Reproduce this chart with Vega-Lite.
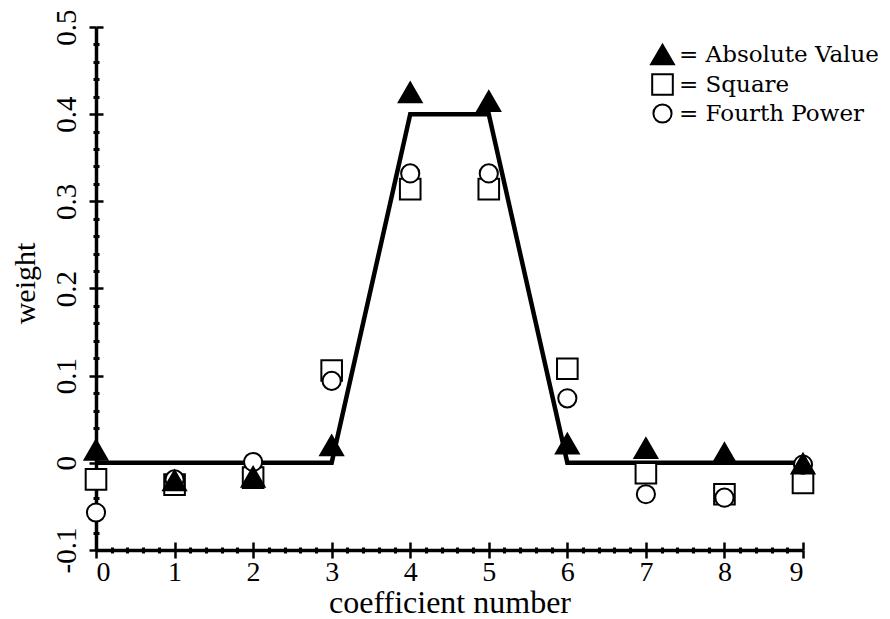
{
  "$schema": "https://vega.github.io/schema/vega-lite/v6.json",
  "width": 707,
  "height": 523,
  "autosize": {"type": "none"},
  "padding": {"left": 96, "top": 27, "right": 87, "bottom": 69},
  "background": "white",
  "config": {
    "view": {"stroke": null},
    "font": "Liberation Serif",
    "axis": {
      "labelFont": "Liberation Serif",
      "titleFont": "Liberation Serif",
      "labelColor": "black",
      "titleColor": "black",
      "domainColor": "black",
      "tickColor": "black",
      "grid": false,
      "titleFontWeight": "normal"
    },
    "legend": {
      "labelFont": "DejaVu Serif",
      "labelColor": "black",
      "labelLimit": 0
    }
  },
  "datasets": {
    "line": [
      {"x": 0, "y": 0}, {"x": 3, "y": 0}, {"x": 4, "y": 0.4},
      {"x": 5, "y": 0.4}, {"x": 6, "y": 0}, {"x": 9, "y": 0}
    ],
    "points": [
      {"x": 0, "y": -0.019, "series": "Square"},
      {"x": 1, "y": -0.025, "series": "Square"},
      {"x": 2, "y": -0.017, "series": "Square"},
      {"x": 3, "y": 0.106, "series": "Square"},
      {"x": 4, "y": 0.314, "series": "Square"},
      {"x": 5, "y": 0.314, "series": "Square"},
      {"x": 6, "y": 0.108, "series": "Square"},
      {"x": 7, "y": -0.012, "series": "Square"},
      {"x": 8, "y": -0.036, "series": "Square"},
      {"x": 9, "y": -0.023, "series": "Square"},
      {"x": 0, "y": -0.057, "series": "Fourth Power"},
      {"x": 1, "y": -0.019, "series": "Fourth Power"},
      {"x": 2, "y": 0.001, "series": "Fourth Power"},
      {"x": 3, "y": 0.094, "series": "Fourth Power"},
      {"x": 4, "y": 0.332, "series": "Fourth Power"},
      {"x": 5, "y": 0.332, "series": "Fourth Power"},
      {"x": 6, "y": 0.074, "series": "Fourth Power"},
      {"x": 7, "y": -0.036, "series": "Fourth Power"},
      {"x": 8, "y": -0.04, "series": "Fourth Power"},
      {"x": 9, "y": -0.002, "series": "Fourth Power"},
      {"x": 0, "y": 0.015, "series": "Absolute Value"},
      {"x": 1, "y": -0.02, "series": "Absolute Value"},
      {"x": 2, "y": -0.016, "series": "Absolute Value"},
      {"x": 3, "y": 0.02, "series": "Absolute Value"},
      {"x": 4, "y": 0.425, "series": "Absolute Value"},
      {"x": 5, "y": 0.415, "series": "Absolute Value"},
      {"x": 6, "y": 0.022, "series": "Absolute Value"},
      {"x": 7, "y": 0.017, "series": "Absolute Value"},
      {"x": 8, "y": 0.011, "series": "Absolute Value"},
      {"x": 9, "y": -0.001, "series": "Absolute Value"}
    ]
  },
  "layer": [
    {
      "data": {"name": "line"},
      "mark": {"type": "line", "color": "black", "strokeWidth": 4.5},
      "encoding": {
        "x": {
          "field": "x", "type": "quantitative",
          "scale": {"domain": [0, 9], "nice": false, "zero": false},
          "axis": {
            "orient": "bottom",
            "values": [0, 1, 2, 3, 4, 5, 6, 7, 8, 9],
            "tickSize": 8, "tickWidth": 2.5, "domainWidth": 3.5,
            "labelFont": "Liberation Serif", "labelFontSize": 28, "labelPadding": 0,
            "title": "coefficient number", "titleFont": "Liberation Serif",
            "titleFontSize": 32, "titlePadding": 1
          }
        },
        "y": {
          "field": "y", "type": "quantitative",
          "scale": {"domain": [-0.1, 0.5], "nice": false, "zero": false},
          "axis": {
            "orient": "left",
            "values": [-0.1, 0, 0.1, 0.2, 0.3, 0.4, 0.5],
            "format": ".1~f",
            "labelExpr": "datum.value < 0 ? '-0.1' : datum.label",
            "labelAngle": -90, "labelAlign": "center", "labelBaseline": "bottom",
            "tickSize": 7, "tickWidth": 2.5, "domainWidth": 3.5,
            "labelFont": "Liberation Serif", "labelFontSize": 29, "labelPadding": 8,
            "title": "weight", "titleFont": "Liberation Serif", "titleFontSize": 30,
            "titleY": 256, "titleX": -56, "titleBaseline": "bottom"
          }
        }
      }
    },
    {
      "data": {"name": "points"},
      "mark": {"type": "point", "filled": true, "stroke": "black", "strokeWidth": 2, "opacity": 1},
      "encoding": {
        "x": {
          "field": "x", "type": "quantitative",
          "axis": {
            "orient": "bottom",
            "values": [0, 1, 2, 3, 4, 5, 6, 7, 8, 9],
            "tickSize": -8, "tickWidth": 2.5, "domain": false,
            "labels": false, "title": null
          }
        },
        "y": {
          "field": "y", "type": "quantitative",
          "axis": {
            "orient": "left",
            "values": [-0.1, 0, 0.1, 0.2, 0.3, 0.4, 0.5],
            "tickSize": -7, "tickWidth": 2.5, "domain": false,
            "labels": false, "title": null
          }
        },
        "shape": {
          "field": "series", "type": "nominal",
          "scale": {"domain": ["Absolute Value", "Square", "Fourth Power"], "range": ["triangle-up", "square", "circle"]},
          "legend": {
            "orient": "none", "legendX": 554, "legendY": 15,
            "title": null,
            "labelFont": "DejaVu Serif", "labelFontSize": 23, "labelColor": "black",
            "labelLimit": 0,
            "labelExpr": "'= ' + datum.label",
            "symbolStrokeColor": "black", "symbolStrokeWidth": 2,
            "rowPadding": 1, "labelOffset": 4
          }
        },
        "fill": {
          "field": "series", "type": "nominal",
          "scale": {"domain": ["Absolute Value", "Square", "Fourth Power"], "range": ["black", "white", "white"]}
        },
        "size": {
          "field": "series", "type": "nominal",
          "scale": {"domain": ["Absolute Value", "Square", "Fourth Power"], "range": [520, 330, 480]}
        }
      }
    },
    {
      "data": {"name": "line"},
      "mark": {"type": "line", "opacity": 0},
      "encoding": {
        "x": {
          "field": "x", "type": "quantitative",
          "axis": {
            "orient": "bottom",
            "values": [0.2,0.4,0.6,0.8,1.2,1.4,1.6,1.8,2.2,2.4,2.6,2.8,3.2,3.4,3.6,3.8,4.2,4.4,4.6,4.8,5.2,5.4,5.6,5.8,6.2,6.4,6.6,6.8,7.2,7.4,7.6,7.8,8.2,8.4,8.6,8.8],
            "tickSize": 3, "tickWidth": 3, "domain": false, "labels": false, "title": null
          }
        },
        "y": {
          "field": "y", "type": "quantitative",
          "axis": {
            "orient": "left",
            "values": [-0.08,-0.06,-0.04,-0.02,0.02,0.04,0.06,0.08,0.12,0.14,0.16,0.18,0.22,0.24,0.26,0.28,0.32,0.34,0.36,0.38,0.42,0.44,0.46,0.48],
            "tickSize": 3, "tickWidth": 3, "domain": false, "labels": false, "title": null
          }
        }
      }
    },
    {
      "data": {"name": "line"},
      "mark": {"type": "line", "opacity": 0},
      "encoding": {
        "x": {
          "field": "x", "type": "quantitative",
          "axis": {
            "orient": "bottom",
            "values": [0.2,0.4,0.6,0.8,1.2,1.4,1.6,1.8,2.2,2.4,2.6,2.8,3.2,3.4,3.6,3.8,4.2,4.4,4.6,4.8,5.2,5.4,5.6,5.8,6.2,6.4,6.6,6.8,7.2,7.4,7.6,7.8,8.2,8.4,8.6,8.8],
            "tickSize": -3, "tickWidth": 3, "domain": false, "labels": false, "title": null
          }
        },
        "y": {
          "field": "y", "type": "quantitative",
          "axis": {
            "orient": "left",
            "values": [-0.08,-0.06,-0.04,-0.02,0.02,0.04,0.06,0.08,0.12,0.14,0.16,0.18,0.22,0.24,0.26,0.28,0.32,0.34,0.36,0.38,0.42,0.44,0.46,0.48],
            "tickSize": -3, "tickWidth": 3, "domain": false, "labels": false, "title": null
          }
        }
      }
    }
  ],
  "resolve": {"axis": {"x": "independent", "y": "independent"}}
}
